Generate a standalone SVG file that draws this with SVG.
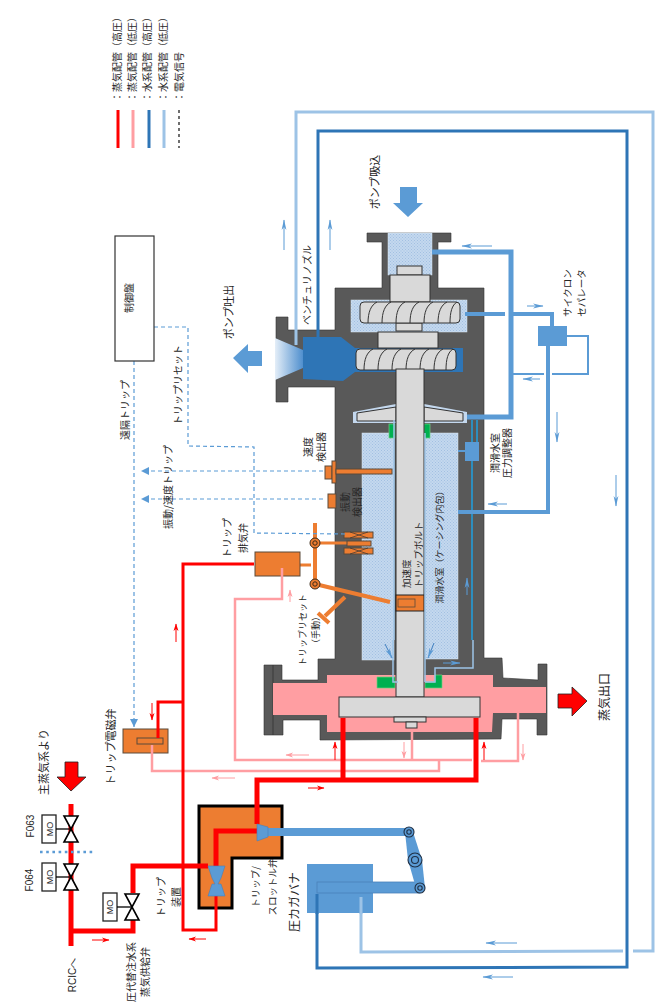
<svg xmlns="http://www.w3.org/2000/svg" width="656" height="1003" viewBox="0 0 656 1003">
<style>
.t{font-family:"Noto Sans CJK JP","Noto Sans",sans-serif;font-size:10px;fill:#262626;text-anchor:middle;dominant-baseline:central}
.s{text-anchor:start}
.l{font-family:"Liberation Sans",sans-serif}
.p{fill:none;stroke-linejoin:miter}
.hp{stroke:#ff0000}
.lp{stroke:#ff9ea2}
.wh{stroke:#2e75b6}
.wm{stroke:#5b9bd5}
.wl{stroke:#9dc3e6}
.cy{stroke:#1fa0e0}
.dash{fill:none;stroke:#5b9bd5;stroke-width:1.2;stroke-dasharray:4 3}
.or{fill:#ed7d31;stroke:#5a4a3a;stroke-width:1}
.orl{fill:none;stroke:#ed7d31}
.blue{fill:#5b9bd5}
.dk{fill:#2e75b6}
.gray{fill:#d9d9d9;stroke:#333;stroke-width:1}
.wat{fill:url(#dots);stroke:#dfe9f4;stroke-width:.5}
.gr{fill:#00b050;stroke:#70d080;stroke-width:.7}
.valve{fill:#fff;stroke:#000;stroke-width:1.6;stroke-linejoin:miter}
.mo{fill:#fff;stroke:#222;stroke-width:1.3}
.ring{fill:#5b9bd5;stroke:#1f2f44;stroke-width:1.1}
.ringo{fill:#ed7d31;stroke:#3a2a1a;stroke-width:1}
</style>
<defs>
<pattern id="dots" width="3" height="3" patternUnits="userSpaceOnUse"><rect width="3" height="3" fill="#c4d8ee"/><rect x="0" y="0" width="1" height="1" fill="#a2c0e2"/><rect x="1.5" y="1.5" width="1" height="1" fill="#a2c0e2"/></pattern>
<linearGradient id="cone" x1="0" x2="1" y1="0" y2="0"><stop offset="0" stop-color="#e4eef8"/><stop offset="1" stop-color="#4f8fce"/></linearGradient>
<marker id="aR" markerWidth="10" markerHeight="6" refX="9" refY="3" orient="auto" markerUnits="userSpaceOnUse"><path d="M2 .5L9.5 3L2 5.5L4 3z" fill="#ff0000"/></marker>
<marker id="aP" markerWidth="10" markerHeight="6" refX="9" refY="3" orient="auto" markerUnits="userSpaceOnUse"><path d="M2 .5L9.5 3L2 5.5L4 3z" fill="#ff9ea2"/></marker>
<marker id="aB" markerWidth="12" markerHeight="6" refX="11" refY="3" orient="auto" markerUnits="userSpaceOnUse"><path d="M1 .6L11.5 3L1 5.4L4 3z" fill="#5b9bd5"/></marker>
<marker id="aD" markerWidth="10" markerHeight="8" refX="8" refY="4" orient="auto" markerUnits="userSpaceOnUse"><path d="M0 0L8 4L0 8z" fill="#5b9bd5"/></marker>
<g id="imp"><rect x="0" y="0" width="100" height="21" rx="4" class="gray"/><path d="M8 21C8 10 11 3 17 0M22 21C22 10 25 3 31 0M36 21C36 10 39 3 45 0M50 21C50 10 53 3 59 0M64 21C64 10 67 3 73 0M78 21C78 10 81 3 87 0M90 21C90 10 92 3 97 0" fill="none" stroke="#333" stroke-width="1"/></g>
</defs>

<g id="legend">
<text class="t s" transform="translate(116,102) rotate(-90)">：蒸気配管（高圧）</text>
<text class="t s" transform="translate(131,102) rotate(-90)">：蒸気配管（低圧）</text>
<text class="t s" transform="translate(146,102) rotate(-90)">：水系配管（高圧）</text>
<text class="t s" transform="translate(162,102) rotate(-90)">：水系配管（低圧）</text>
<text class="t s" transform="translate(178,102) rotate(-90)">：電気信号</text>
<path class="p hp" stroke-width="3" d="M118 110V148"/>
<path class="p lp" stroke-width="3" d="M133 110V148"/>
<path class="p wh" stroke-width="3" d="M149 110V148"/>
<path class="p wl" stroke-width="3" d="M164 110V148"/>
<path class="p" stroke="#222" stroke-width="1.3" stroke-dasharray="3 3" d="M179 110V148"/>
</g>

<g id="casing">
<path fill="#595959" stroke="#333" stroke-width=".6" d="M367 233H451V242H438V288H484V658H502L503 678L538 680V664H547V735H537V719H502L501 739L320 740V720H283V735H264V665H282V680H318V659H335V387H288V402H276V317H288V330H335V288H382V242H367Z"/>
<path d="M273 665V735" stroke="#333" stroke-width=".8"/>
<path fill="#ff9ea2" d="M273 683H327V675H493V687H546V713H493L492 732H327V715H273Z"/>
<path d="M275 338L303 350V368L275 380Z" fill="url(#cone)"/>
</g>

<g id="pump">
<rect class="wat" x="388" y="233" width="44" height="42"/>
<rect class="wat" x="351" y="300" width="116" height="32"/>
<rect x="355" y="348" width="108" height="24" fill="#2e75b6"/>
<rect class="gray" x="397" y="266" width="25" height="9"/>
<rect class="gray" x="390" y="275" width="40" height="27"/>
<rect class="gray" x="396" y="323" width="26" height="8"/>
<rect class="gray" x="378" y="332" width="60" height="16"/>
<use href="#imp" x="360" y="302"/>
<use href="#imp" x="356" y="349"/>
<path class="dk" d="M303 337H341L355 348V372L343 381L303 379Z"/>
<path fill="#c4d8ee" d="M353 412L396 404V423H353ZM424 404L467 412V423H424Z"/>
<path class="gray" d="M357 413L396 407V421H357ZM424 407L463 413V421H424Z"/>
<rect class="wat" x="362" y="433" width="32" height="227"/>
<rect class="wat" x="425" y="433" width="33" height="226"/>
<rect class="gr" x="389" y="424" width="6" height="14"/>
<rect class="gr" x="424" y="424" width="6" height="14"/>
<path class="gr" d="M377 677H395V688H377ZM425 682H435V675H442V688H425Z"/>
<rect class="gray" x="396" y="369" width="28" height="328"/>
<rect class="gray" x="339" y="697" width="141" height="20"/>
<rect class="gray" x="394" y="717" width="32" height="5"/>
<rect class="gray" x="406" y="722" width="11" height="6"/>
</g>

<g id="trip-bolt">
<rect x="396" y="595" width="28" height="16" fill="#ed7d31" stroke="#222"/>
<rect x="398" y="599" width="17" height="8" fill="#ed7d31" stroke="#5a4a3a" stroke-width=".8"/>
</g>

<g id="pressure-regulator"><rect class="blue" x="465" y="442" width="14" height="19"/></g>
<g id="cyclone"><rect class="blue" x="538" y="326" width="29" height="20"/></g>

<g id="speed-sensor">
<rect class="or" x="325" y="466" width="7" height="13"/>
<rect class="or" x="332" y="461" width="4" height="22"/>
<rect class="or" x="336" y="469" width="56" height="5"/>
</g>
<g id="vibration-sensor"><rect class="or" x="328" y="494" width="8" height="14"/></g>

<g id="trip-linkage">
<path class="orl" stroke-width="4" d="M315 523V584"/>
<path class="orl" stroke-width="3" d="M315 543H347M300 565H311"/>
<path class="orl" stroke-width="4" d="M315 584L390 602M345 597L325 616M318 613L329 623"/>
<circle class="ringo" cx="315" cy="543" r="5"/><circle class="ringo" cx="315" cy="543" r="2.2"/>
<circle class="ringo" cx="315" cy="584" r="5"/><circle class="ringo" cx="315" cy="584" r="2.2"/>
<rect class="or" x="344" y="532" width="29" height="6" stroke="#222"/>
<rect class="or" x="344" y="548" width="29" height="6" stroke="#222"/>
<rect class="or" x="347" y="541" width="24" height="5"/>
<path d="M350 532L368 538M350 538L368 532M350 548L368 554M350 554L368 548" stroke="#333" stroke-width=".7"/>
</g>

<g id="trip-exhaust-valve"><rect x="255" y="552" width="45" height="24" class="or"/></g>
<g id="trip-solenoid-valve"><rect x="123" y="729" width="45" height="24" class="or"/><rect x="137" y="738" width="26" height="6" class="or" stroke="#222"/></g>

<g id="trip-device">
<path fill="#ed7d31" stroke="#000" stroke-width="3" d="M199 806H282V858H232V908H199Z"/>
</g>

<g id="connectors">
<path class="p wl" stroke-width="3" d="M296 345V112H653V951H633M623 951L361 952V913"/>
<path class="p wh" stroke-width="3" d="M318 337V131H627V967L317 968V913"/>
<path class="p wl" stroke-width="1.5" d="M473 640V668H435V682H425M393 640V682H398M394 420V640M425 433V682"/>
<path class="p cy" stroke-width="1.5" d="M472 420V442M477 420V442M472 461V640"/>
<path class="p wm" stroke-width="2" d="M458 451H465"/>
<path class="p wm" stroke-width="5" d="M432 252H511V417H467"/>
<path class="p wm" stroke-width="4" d="M465 314H505M513 314H552V327M548 346V512H458"/>
<path class="p wm" stroke-width="2" d="M567 336H588V374H552M544 374H512"/>
<path class="p dash" d="M154 327H188V446L254 447V533L345 534"/>
<path class="p dash" d="M134 361V727" marker-end="url(#aD)"/>
<path class="p dash" d="M323 471H141" marker-end="url(#aD)"/>
<path class="p dash" d="M323 499H141" marker-end="url(#aD)"/>
<path class="p lp" stroke-width="2.5" d="M282 568V599H235V760H472M481 761H518V713"/>
<path class="p lp" stroke-width="2.5" d="M412 732V761"/>
<path class="p lp" stroke-width="2.5" d="M152 745V771H439V761"/>
<path class="p hp" stroke-width="5" d="M71 804V946M71 931H133V920M133 893V866H208"/>
<path class="p hp" stroke-width="5" d="M216 866V831H257"/>
<path class="p hp" stroke-width="5" d="M257 824V780H476V718M343 780V718"/>
<path class="p hp" stroke-width="3" d="M216 896V930H183V564H254"/>
<path class="p hp" stroke-width="3" d="M183 702H158V738"/>
</g>

<g id="throttle-governor">
<rect class="blue" x="307" y="864" width="66" height="49"/>
<rect x="317" y="882" width="103" height="11" class="blue" stroke="#4a80b8" stroke-width=".8"/>
<rect class="blue" x="268" y="828" width="141" height="8"/>
<path class="blue" stroke="#4a80b8" stroke-width=".6" d="M257 824L268 827V837L257 841Z"/>
<path class="blue" stroke="#4a80b8" stroke-width=".6" d="M208 866H225L221 878L218 884L221 884L225 896H208L212 884L215 884L212 878Z"/>
<path class="blue" d="M405 832H413L422 860L425 888H416L408 860Z"/>
<circle class="ring" cx="409" cy="832" r="5"/><circle class="ring" cx="409" cy="832" r="2.2"/>
<circle class="ring" cx="415" cy="860" r="7"/><circle class="ring" cx="415" cy="860" r="3.5"/>
<circle class="ring" cx="420" cy="888" r="5"/><circle class="ring" cx="420" cy="888" r="2.2"/>
<path class="p wl" stroke-width="3" d="M361 914V897"/>
<path class="p wh" stroke-width="3" d="M317 914V894"/>
</g>

<g id="valve-f063"><rect class="mo" x="42" y="815" width="14" height="28"/><path d="M56 829H71" stroke="#000" stroke-width="1.3"/><path class="valve" d="M64 816H78L64 842H78Z"/><text class="t l" style="font-size:9px" transform="translate(50,829) rotate(-90)">MO</text></g>
<g id="valve-f064"><rect class="mo" x="42" y="863" width="14" height="28"/><path d="M56 877H71" stroke="#000" stroke-width="1.3"/><path class="valve" d="M64 864H78L64 890H78Z"/><text class="t l" style="font-size:9px" transform="translate(50,877) rotate(-90)">MO</text></g>
<g id="valve-supply"><rect class="mo" x="103" y="893" width="14" height="28"/><path d="M117 907H132" stroke="#000" stroke-width="1.3"/><path class="valve" d="M125 894H139L125 920H139Z"/><text class="t l" style="font-size:9px" transform="translate(110,907) rotate(-90)">MO</text></g>
<path id="boundary" d="M40 852H93" fill="none" stroke="#5b9bd5" stroke-width="2.6" stroke-dasharray="2.6 3.6"/>

<g id="control-panel"><rect x="115" y="236" width="39" height="125" fill="#fff" stroke="#333" stroke-width="1.2"/><text class="t" transform="translate(128,298) rotate(-90)">制御盤</text></g>

<g id="big-arrows">
<path class="blue" d="M400 187H417V203H423L408 217L393 203H400Z"/>
<path class="blue" d="M262 351V366H248V373L233 358L248 344V351Z"/>
<path fill="#ff0000" stroke="#222" stroke-width=".8" d="M65 762H78V777H86L71 791L57 777H65Z"/>
<path fill="#ff0000" stroke="#222" stroke-width=".8" d="M558 694H572V687L587 701L572 716V708H558Z"/>
</g>

<g id="flow-arrows" fill="none">
<path stroke="#ff0000" d="M152 703V720" marker-end="url(#aR)"/>
<path stroke="#ff0000" d="M92 940H109" marker-end="url(#aR)"/>
<path stroke="#ff0000" d="M206 939H189" marker-end="url(#aR)"/>
<path stroke="#ff0000" d="M308 788H324" marker-end="url(#aR)"/>
<path stroke="#ff0000" d="M176 642V624" marker-end="url(#aR)"/>
<path stroke="#ff0000" d="M335 760V742" marker-end="url(#aR)"/>
<path stroke="#ff0000" d="M484 760V742" marker-end="url(#aR)"/>
<path stroke="#ff9ea2" d="M290 602V590" marker-end="url(#aP)"/>
<path stroke="#ff9ea2" d="M235 778H212" marker-end="url(#aP)"/>
<path stroke="#ff9ea2" d="M309 755H286" marker-end="url(#aP)"/>
<path stroke="#ff9ea2" d="M404 742V758" marker-end="url(#aP)"/>
<path stroke="#ff9ea2" d="M523 744V760" marker-end="url(#aP)"/>
<path stroke="#5b9bd5" d="M443 663H460" marker-end="url(#aB)"/>
<path stroke="#5b9bd5" d="M467 595V578" marker-end="url(#aB)"/>
<path stroke="#5b9bd5" d="M507 504H488" marker-end="url(#aB)"/>
<path stroke="#5b9bd5" d="M557 412V442" marker-end="url(#aB)"/>
<path stroke="#5b9bd5" d="M616 475V506" marker-end="url(#aB)"/>
<path stroke="#3f7fc0" d="M385 644L392 658" marker-end="url(#aB)"/>
<path stroke="#3f7fc0" d="M434 643L428 658" marker-end="url(#aB)"/>
<path stroke="#5b9bd5" d="M284 250V220" marker-end="url(#aB)"/>
<path stroke="#5b9bd5" d="M330 250V220" marker-end="url(#aB)"/>
<path stroke="#5b9bd5" d="M492 246H462" marker-end="url(#aB)"/>
<path stroke="#5b9bd5" d="M527 306H543" marker-end="url(#aB)"/>
<path stroke="#5b9bd5" d="M540 379H523" marker-end="url(#aB)"/>
<path stroke="#5b9bd5" d="M517 943H486" marker-end="url(#aB)"/>
<path stroke="#5b9bd5" d="M513 977H483" marker-end="url(#aB)"/>
</g>

<g id="labels">
<text class="t" style="font-size:11px" transform="translate(43,762) rotate(-90)">主蒸気系より</text>
<text class="t l" transform="translate(30,826) rotate(-90)">F063</text>
<text class="t l" transform="translate(29,880) rotate(-90)">F064</text>
<text class="t" style="font-size:11px" transform="translate(110,747) rotate(-90)">トリップ電磁弁</text>
<text class="t" transform="translate(160,897) rotate(-90)">トリップ</text>
<text class="t" transform="translate(175,897) rotate(-90)">装置</text>
<text class="t" transform="translate(130,972) rotate(-90)">圧代替注水系</text>
<text class="t" transform="translate(144,972) rotate(-90)">蒸気供給弁</text>
<text class="t l" transform="translate(72,975) rotate(-90)">RCICへ</text>
<text class="t" style="font-size:9.5px" transform="translate(255,887) rotate(-90)">トリップ/</text>
<text class="t" style="font-size:9.5px" transform="translate(272,887) rotate(-90)">スロットル弁</text>
<text class="t" style="font-size:12px" transform="translate(293,902) rotate(-90)">圧カガバナ</text>
<text class="t" style="font-size:12px" transform="translate(603,697) rotate(-90)">蒸気出口</text>
<text class="t" style="font-size:9.5px" transform="translate(567,293) rotate(-90)">サイクロン</text>
<text class="t" style="font-size:9.5px" transform="translate(581,293) rotate(-90)">セパレータ</text>
<text class="t" transform="translate(494,453) rotate(-90)">潤滑水室</text>
<text class="t" transform="translate(506,453) rotate(-90)">圧力調整器</text>
<text class="t" style="font-size:9px" transform="translate(439,545) rotate(-90)">潤滑水室（ケーシング内包）</text>
<text class="t s" style="font-size:9.5px" transform="translate(406,588) rotate(-90)">加速度</text>
<text class="t s" style="font-size:9.5px" transform="translate(418,588) rotate(-90)">トリップボルト</text>
<text class="t" style="font-size:9px" transform="translate(302,630) rotate(-90)">トリップリセット</text>
<text class="t" style="font-size:9px" transform="translate(315,630) rotate(-90)">（手動）</text>
<text class="t" transform="translate(344,502) rotate(-90)">振動</text>
<text class="t" transform="translate(356,502) rotate(-90)">検出器</text>
<text class="t" transform="translate(307,447) rotate(-90)">速度</text>
<text class="t" transform="translate(320,447) rotate(-90)">検出器</text>
<text class="t" transform="translate(226,538) rotate(-90)">トリップ</text>
<text class="t" transform="translate(242,538) rotate(-90)">排気弁</text>
<text class="t" transform="translate(167,487) rotate(-90)">振動/速度トリップ</text>
<text class="t" transform="translate(124,410) rotate(-90)">遠隔トリップ</text>
<text class="t" transform="translate(177,385) rotate(-90)">トリップリセット</text>
<text class="t" style="font-size:11px" transform="translate(228,312) rotate(-90)">ポンプ吐出</text>
<text class="t" style="font-size:11px" transform="translate(374,182) rotate(-90)">ポンプ吸込</text>
<text class="t" transform="translate(306,285) rotate(-90)">ベンチュリノズル</text>
</g>
</svg>
